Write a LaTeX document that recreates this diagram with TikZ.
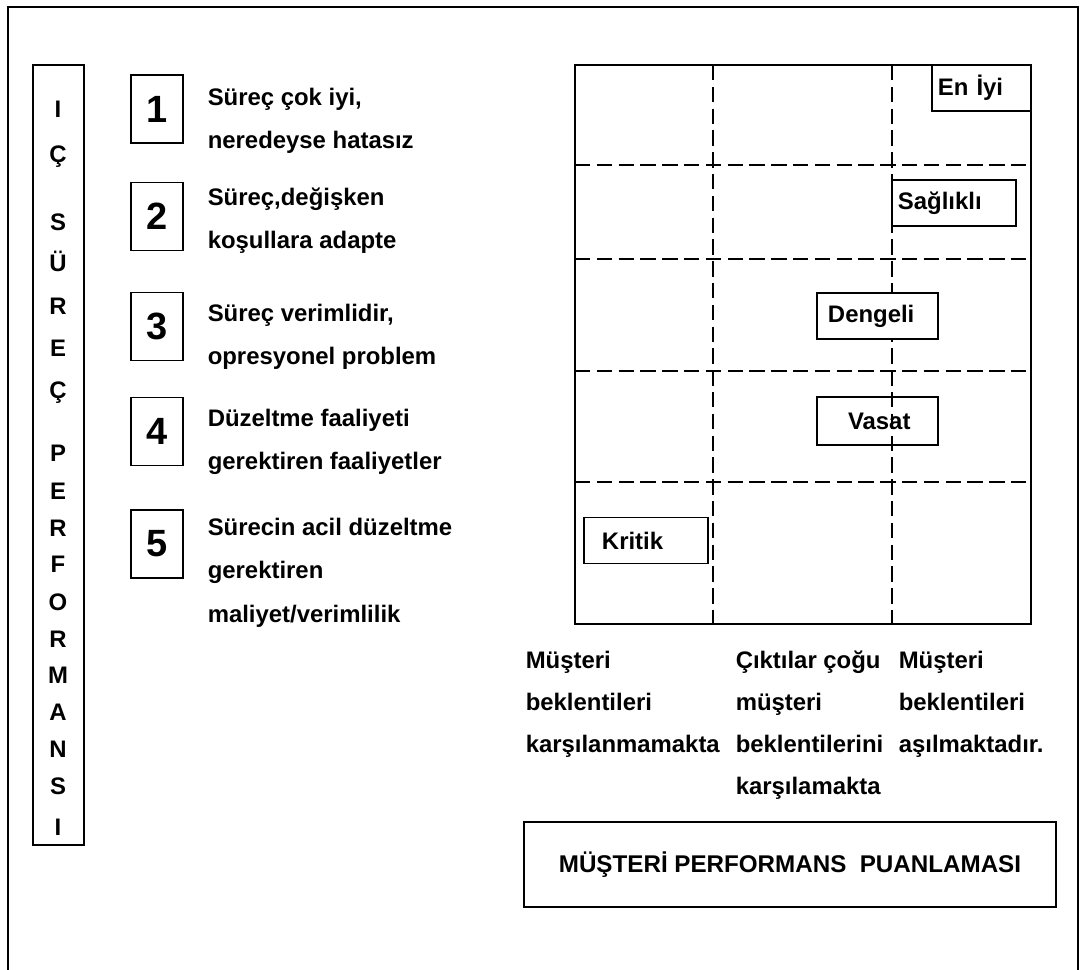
\documentclass[tikz,border=0pt]{standalone}
\usepackage{fontspec}
\setmainfont{Liberation Sans}

\begin{document}
\begin{tikzpicture}[x=0.025cm, y=-0.025cm, line width=1.1pt,
  txt/.style={font=\fontsize{17}{30.8}\selectfont\bfseries, align=left,
              anchor=base west, inner sep=0pt},
  col/.style={txt, font=\fontsize{17}{29.8}\selectfont\bfseries},
  num/.style={draw, minimum width=1.3cm, minimum height=1.7cm,
              font=\fontsize{27}{30}\selectfont\bfseries},
  vlet/.style={anchor=base, inner sep=0pt, font=\fontsize{17}{20}\selectfont\bfseries},
  grd/.style={dash pattern=on 11pt off 4.5pt},
  lbl/.style={draw, fill=white, minimum height=1.15cm, inner xsep=0.15cm,
              align=left, font=\fontsize{17}{20}\selectfont\bfseries}
]
  \useasboundingbox (0,0) rectangle (1080,969);
  \draw (8,975) -- (8,7) -- (1078,7) -- (1078,975);

  % left column
  \node[draw, minimum width=1.275cm, minimum height=19.5cm] (vbox) at (58.5,455) {};
  \foreach \c/\y [count=\i] in {I/117, Ç/162, S/230, Ü/271, R/314, E/356, Ç/398,
      P/461, E/499, R/536, F/572, O/610, R/647, M/683, A/720, N/757, S/794, I/835}
    \node[vlet] (let\i) at (58,\y) {\c};

  \node[num] (num1) at (157,109)   {1};
  \node[num] (num2) at (157,216.5) {2};
  \node[num] (num3) at (157,326.5) {3};
  \node[num] (num4) at (157,431.5) {4};
  \node[num] (num5) at (157,544)   {5};
  % base = baseline of the last line
  \node[txt] (txt1) at (207,148.5) {Süreç çok iyi,\\neredeyse hatasız};
  \node[txt] (txt2) at (207,248.5) {Süreç,değişken\\koşullara adapte};
  \node[txt] (txt3) at (207,364.5) {Süreç verimlidir,\\opresyonel problem};
  \node[txt] (txt4) at (207,469.5) {Düzeltme faaliyeti\\gerektiren faaliyetler};
  \node[txt] (txt5) at (207,622)   {Sürecin acil düzeltme\\gerektiren\\maliyet/verimlilik};

  % grid
  \draw (575,65) rectangle (1031,624);
  \foreach \x in {713,892}
    \draw[grd] (\x,65) -- (\x,624);
  \foreach \y in {165,259,371,482}
    \draw[grd] (575,\y) -- (1031,\y);

  \node[lbl, text width=2.175cm] (eniyi) at (981.5,88) {En İyi};
  \node[lbl, text width=2.8cm] (saglikli) at (954,203) {Sağlıklı};
  \node[lbl, text width=2.725cm] (dengeli) at (877.5,316) {\hspace*{0.125cm}Dengeli};
  \node[lbl, fill=none, text width=2.725cm, minimum height=1.2cm] (vasat) at (877.5,421) {\hspace*{0.625cm}Vasat};
  \node[lbl, text width=2.8cm] (kritik) at (646,540.5) {\hspace*{0.3cm}Kritik};

  % column labels
  \node[col] (c1) at (525,752) {Müşteri\\beklentileri\\karşılanmamakta};
  \node[col] (c2) at (735,794) {Çıktılar çoğu\\müşteri\\beklentilerini\\karşılamakta};
  \node[col] (c3) at (898,752) {Müşteri\\beklentileri\\aşılmaktadır.};

  \node[draw, minimum width=13.3cm, minimum height=2.125cm,
        font=\fontsize{17.2}{20}\selectfont\bfseries] (puan) at (790,864.5)
        {MÜŞTERİ PERFORMANS\ \ PUANLAMASI};
\end{tikzpicture}
\end{document}
